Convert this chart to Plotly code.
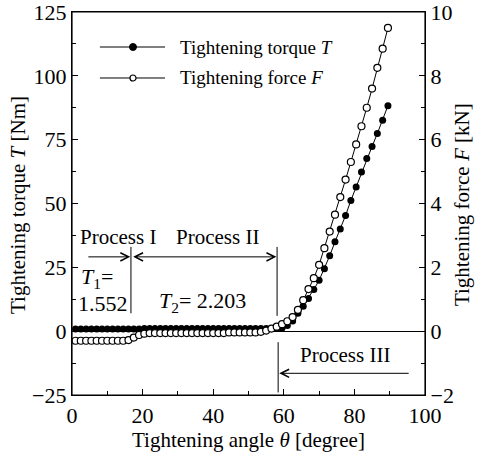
import plotly.graph_objects as go

angle = [1.0, 2.5, 4.0, 5.5, 7.0, 8.5, 10.0, 11.5, 13.0, 14.5,
         16.0, 17.5, 19.0, 20.5, 22.0, 23.5, 25.0, 26.5, 28.0, 29.5,
         31.0, 32.5, 34.0, 35.5, 37.0, 38.5, 40.0, 41.5, 43.0, 44.5,
         46.0, 47.5, 49.0, 50.5, 52.0, 53.5, 55.0, 56.5, 58.0, 59.5,
         61.0, 62.5, 64.0, 65.5, 67.0, 68.5, 70.0, 71.5, 73.0, 74.5,
         76.0, 77.5, 79.0, 80.5, 82.0, 83.5, 85.0, 86.5, 88.0, 89.5]

torque = [0.8, 0.8, 0.8, 0.8, 0.8, 0.8, 0.8, 0.8, 0.8, 0.8,
          0.8, 0.8, 0.8, 1.0, 1.0, 1.0, 1.0, 1.0, 1.0, 1.0,
          1.0, 1.0, 1.0, 1.0, 1.0, 1.0, 1.0, 1.0, 1.0, 1.0,
          1.0, 1.0, 1.0, 1.0, 1.0, 1.0, 1.0, 1.0, 1.0, 1.2,
          2.2, 4.0, 7.0, 9.8, 12.8, 16.3, 19.9, 24.4, 29.5, 35.0,
          40.0, 45.3, 51.2, 56.5, 62.3, 67.6, 72.3, 77.4, 82.6, 88.3]

force = [-0.3, -0.3, -0.3, -0.3, -0.3, -0.3, -0.3, -0.3, -0.3, -0.3,
         -0.28, -0.2, -0.12, -0.08, -0.06, -0.06, -0.06, -0.06, -0.06, -0.06,
         -0.06, -0.06, -0.06, -0.06, -0.06, -0.06, -0.06, -0.06, -0.06, -0.04,
         -0.04, -0.04, -0.04, -0.04, -0.04, -0.02, 0.02, 0.08, 0.14, 0.22,
         0.31, 0.44, 0.67, 0.97, 1.32, 1.66, 2.08, 2.6, 3.12, 3.65,
         4.2, 4.75, 5.3, 5.85, 6.42, 7.0, 7.6, 8.25, 8.85, 9.5]

left_ticks = [-25, 0, 25, 50, 75, 100, 125]
right_ticks = [-2, 0, 2, 4, 6, 8, 10]
x_ticks = [0, 20, 40, 60, 80, 100]

FONT = "Liberation Serif"
fs_tick = 22
fs_title = 21
fs_leg = 19
fs_proc = 21
fs_val = 22

fig = go.Figure()
fig.add_trace(go.Scatter(x=angle, y=torque, mode="lines+markers", name="Tightening torque T",
                         line=dict(color="black", width=1),
                         marker=dict(symbol="circle", size=7, color="black"),
                         yaxis="y"))
fig.add_trace(go.Scatter(x=angle, y=force, mode="lines+markers", name="Tightening force F",
                         line=dict(color="black", width=1),
                         marker=dict(symbol="circle", size=7, color="white",
                                     line=dict(color="black", width=1.2)),
                         yaxis="y2"))

axis_common = dict(showline=True, linecolor="black", linewidth=1.2, ticks="inside",
                   tickcolor="black", ticklen=6, showgrid=False, automargin=False,
                   ticklabeloverflow="allow",
                   tickfont=dict(family=FONT, size=fs_tick, color="black"))

fig.update_layout(
    width=477, height=462,
    margin=dict(l=72, r=52, t=12, b=67),
    paper_bgcolor="white", plot_bgcolor="white",
    showlegend=False,
    font=dict(family=FONT, size=fs_title, color="black"),
    xaxis=dict(range=[0, 100], tickvals=x_ticks, mirror=True, zeroline=False,
               minor=dict(dtick=10, ticks="inside", ticklen=4, tickcolor="black"),
               **axis_common),
    yaxis=dict(range=[-25, 125], tickvals=left_ticks, zeroline=True, zerolinecolor="black",
               zerolinewidth=1,
               minor=dict(dtick=12.5, ticks="inside", ticklen=4, tickcolor="black"),
               **axis_common),
    yaxis2=dict(range=[-2, 10], tickvals=right_ticks, overlaying="y", side="right",
                zeroline=False,
                minor=dict(dtick=1, ticks="inside", ticklen=4, tickcolor="black"),
                **axis_common),
)

shapes = []
# plot frame
shapes.append(dict(type="rect", xref="paper", yref="paper", x0=0, x1=1, y0=0, y1=1,
                   line=dict(color="black", width=1.2), layer="above"))
# legend drawn manually
for yp in (0.9086, 0.8277):
    shapes.append(dict(type="line", xref="paper", yref="paper", x0=0.079, x1=0.2635,
                       y0=yp, y1=yp, line=dict(color="black", width=1)))
shapes.append(dict(type="circle", xref="paper", yref="paper", xsizemode="pixel", ysizemode="pixel",
                   xanchor=0.1728, yanchor=0.9086, x0=-3.5, x1=3.5, y0=-3.5, y1=3.5,
                   fillcolor="black", line=dict(color="black", width=1)))
shapes.append(dict(type="circle", xref="paper", yref="paper", xsizemode="pixel", ysizemode="pixel",
                   xanchor=0.1728, yanchor=0.8277, x0=-3, x1=3, y0=-3, y1=3,
                   fillcolor="white", line=dict(color="black", width=1.2)))

# process boundary lines
shapes.append(dict(type="line", xref="x", yref="y", x0=16.7, x1=16.7, y0=33, y1=7,
                   line=dict(color="black", width=1)))
shapes.append(dict(type="line", xref="x", yref="y", x0=58.1, x1=58.1, y0=33, y1=6,
                   line=dict(color="black", width=1)))
shapes.append(dict(type="line", xref="x", yref="y", x0=58.4, x1=58.4, y0=-4.3, y1=-24,
                   line=dict(color="black", width=1)))
fig.update_layout(shapes=shapes)

ann = []
# axis titles
ann.append(dict(xref="paper", yref="paper", x=0.5, y=-0.1175, xanchor="center", yanchor="middle",
                text="Tightening angle <i>θ</i> [degree]", showarrow=False, font=dict(size=fs_title)))
ann.append(dict(xref="paper", yref="paper", x=-0.153, y=0.496, xanchor="center", yanchor="middle",
                text="Tightening torque <i>T</i> [Nm]", textangle=-90, showarrow=False,
                font=dict(size=fs_title)))
ann.append(dict(xref="paper", yref="paper", x=1.105, y=0.496, xanchor="center", yanchor="middle",
                text="Tightening force <i>F</i> [kN]", textangle=-90, showarrow=False,
                font=dict(size=fs_title)))
# legend texts
ann.append(dict(xref="paper", yref="paper", x=0.300, y=0.9086, xanchor="left", yanchor="middle",
                text="Tightening torque <i>T</i>", showarrow=False, font=dict(size=fs_leg)))
ann.append(dict(xref="paper", yref="paper", x=0.300, y=0.8277, xanchor="left", yanchor="middle",
                text="Tightening force <i>F</i>", showarrow=False, font=dict(size=fs_leg)))
ann.append(dict(xref="x", yref="y", x=13.0, y=37.0, text="Process I", showarrow=False,
                font=dict(size=fs_proc)))
ann.append(dict(xref="x", yref="y", x=41.1, y=37.0, text="Process II", showarrow=False,
                font=dict(size=fs_proc)))
ann.append(dict(xref="x", yref="y", x=77.3, y=-9.4, text="Process III", showarrow=False,
                font=dict(size=fs_proc)))
ann.append(dict(xref="x", yref="y", x=2.0, y=20.9, xanchor="left",
                text="<i>T</i><sub>1</sub>=", showarrow=False, font=dict(size=fs_val)))
ann.append(dict(xref="x", yref="y", x=1.2, y=11.0, xanchor="left",
                text="1.552", showarrow=False, font=dict(size=fs_val)))
ann.append(dict(xref="x", yref="y", x=24.0, y=11.4, xanchor="left",
                text="<i>T</i><sub>2</sub>= 2.203", showarrow=False, font=dict(size=fs_val)))
# arrows
ann.append(dict(xref="x", yref="y", axref="x", ayref="y", x=16.5, y=29.1, ax=4.2, ay=29.1,
                text="", showarrow=True, arrowhead=5, arrowsize=1.6, arrowwidth=1,
                arrowcolor="black", standoff=0))
ann.append(dict(xref="x", yref="y", axref="x", ayref="y", x=57.9, y=29.1, ax=16.9, ay=29.1,
                text="", showarrow=True, arrowhead=5, startarrowhead=5, arrowside="end+start",
                arrowsize=1.6, startarrowsize=1.6, arrowwidth=1,
                arrowcolor="black", standoff=0, startstandoff=0))
ann.append(dict(xref="x", yref="y", axref="x", ayref="y", x=58.7, y=-16.5, ax=95.8, ay=-16.5,
                text="", showarrow=True, arrowhead=5, arrowsize=1.6, arrowwidth=1,
                arrowcolor="black", standoff=0))
fig.update_layout(annotations=ann)

# remove the browser's default 8px body margin so the figure fills the window exactly
html = fig.to_html(full_html=True, include_plotlyjs=True, config={"displayModeBar": False})
html = html.replace("<body>", '<body style="margin:0;overflow:hidden">', 1)
with open("out.html", "w", encoding="utf-8") as f:
    f.write(html)
